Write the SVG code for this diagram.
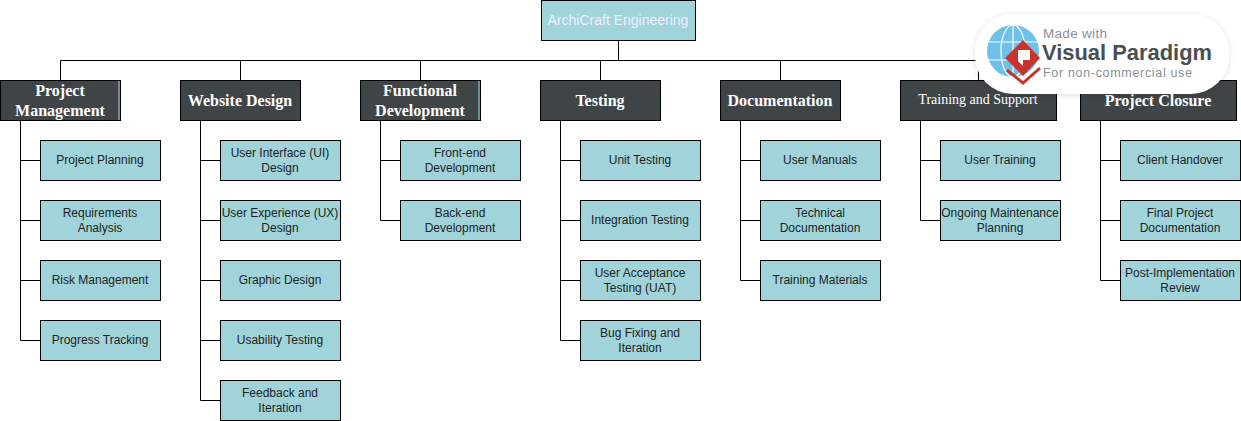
<svg xmlns="http://www.w3.org/2000/svg" width="1241" height="421" viewBox="0 0 1241 421">
<style>
.c{fill:none;stroke:#000;stroke-width:1}
.d{fill:#3f4446;stroke:#000;stroke-width:1}
.l{fill:#a0d4da;stroke:#000;stroke-width:1}
.dt{font-family:"Liberation Serif",serif;font-weight:bold;font-size:16px;fill:#fff;text-anchor:middle}
.lt{font-family:"Liberation Sans",Arial,sans-serif;font-size:12px;fill:#222;text-anchor:middle}
.rt{font-family:"Liberation Sans",Arial,sans-serif;font-size:14px;fill:#eef;text-anchor:middle}
.wm{font-family:"Liberation Sans",Arial,sans-serif}
</style>
<defs><filter id="sh" x="-10%" y="-20%" width="120%" height="140%"><feDropShadow dx="0" dy="1" stdDeviation="3" flood-color="#000" flood-opacity="0.12"/></filter></defs>
<g id="connectors" class="c">
<path class="c" d="M618.5 40.5V60.5M60.5 80.5V60.5H1158.5V80.5M240.5 60.5V80.5M420.5 60.5V80.5M600.5 60.5V80.5M780.5 60.5V80.5M978.5 60.5V80.5"/>
<path class="c" d="M20.5 120.5V340.5H40.5M20.5 160.5H40.5M20.5 220.5H40.5M20.5 280.5H40.5"/>
<path class="c" d="M200.5 120.5V400.5H220.5M200.5 160.5H220.5M200.5 220.5H220.5M200.5 280.5H220.5M200.5 340.5H220.5"/>
<path class="c" d="M380.5 120.5V220.5H400.5M380.5 160.5H400.5"/>
<path class="c" d="M560.5 120.5V340.5H580.5M560.5 160.5H580.5M560.5 220.5H580.5M560.5 280.5H580.5"/>
<path class="c" d="M740.5 120.5V280.5H760.5M740.5 160.5H760.5M740.5 220.5H760.5"/>
<path class="c" d="M920.5 120.5V220.5H940.5M920.5 160.5H940.5"/>
<path class="c" d="M1100.5 120.5V280.5H1120.5M1100.5 160.5H1120.5M1100.5 220.5H1120.5"/>
</g>
<g id="root"><rect class="l" x="541.5" y="0.5" width="154" height="40"/><text class="rt" x="618" y="25">ArchiCraft Engineering</text></g>
<g id="n1"><rect class="d" x="0.5" y="80.5" width="120" height="40"/><path d="M119 81V120" stroke="#a0d4da" stroke-width="1"/><text class="dt" x="60" y="96">Project</text><text class="dt" x="60" y="116">Management</text></g>
<g id="n2"><rect class="d" x="180.5" y="80.5" width="120" height="40"/><text class="dt" x="240" y="106">Website Design</text></g>
<g id="n3"><rect class="d" x="360.5" y="80.5" width="120" height="40"/><path d="M479 81V120" stroke="#a0d4da" stroke-width="1"/><text class="dt" x="420" y="96">Functional</text><text class="dt" x="420" y="116">Development</text></g>
<g id="n4"><rect class="d" x="540.5" y="80.5" width="120" height="40"/><text class="dt" x="600" y="106">Testing</text></g>
<g id="n5"><rect class="d" x="720.5" y="80.5" width="120" height="40"/><text class="dt" x="780" y="106">Documentation</text></g>
<g id="n6"><rect class="d" x="900.5" y="80.5" width="156" height="40"/><text class="dt" style="font-weight:normal;font-size:14px" x="978" y="104">Training and Support</text></g>
<g id="n7"><rect class="d" x="1080.5" y="80.5" width="156" height="40"/><text class="dt" x="1158" y="106">Project Closure</text></g>

<g id="a1"><rect class="l" x="40.5" y="140.5" width="120" height="40"/><text class="lt" x="100" y="164">Project Planning</text></g>
<g id="a2"><rect class="l" x="40.5" y="200.5" width="120" height="40"/><text class="lt" x="100" y="217">Requirements</text><text class="lt" x="100" y="232">Analysis</text></g>
<g id="a3"><rect class="l" x="40.5" y="260.5" width="120" height="40"/><text class="lt" x="100" y="284">Risk Management</text></g>
<g id="a4"><rect class="l" x="40.5" y="320.5" width="120" height="40"/><text class="lt" x="100" y="344">Progress Tracking</text></g>

<g id="b1"><rect class="l" x="220.5" y="140.5" width="120" height="40"/><text class="lt" x="280" y="157">User Interface (UI)</text><text class="lt" x="280" y="172">Design</text></g>
<g id="b2"><rect class="l" x="220.5" y="200.5" width="120" height="40"/><text class="lt" x="280" y="217">User Experience (UX)</text><text class="lt" x="280" y="232">Design</text></g>
<g id="b3"><rect class="l" x="220.5" y="260.5" width="120" height="40"/><text class="lt" x="280" y="284">Graphic Design</text></g>
<g id="b4"><rect class="l" x="220.5" y="320.5" width="120" height="40"/><text class="lt" x="280" y="344">Usability Testing</text></g>
<g id="b5"><rect class="l" x="220.5" y="380.5" width="120" height="40"/><text class="lt" x="280" y="397">Feedback and</text><text class="lt" x="280" y="412">Iteration</text></g>

<g id="c1"><rect class="l" x="400.5" y="140.5" width="120" height="40"/><text class="lt" x="460" y="157">Front-end</text><text class="lt" x="460" y="172">Development</text></g>
<g id="c2"><rect class="l" x="400.5" y="200.5" width="120" height="40"/><text class="lt" x="460" y="217">Back-end</text><text class="lt" x="460" y="232">Development</text></g>

<g id="d1"><rect class="l" x="580.5" y="140.5" width="120" height="40"/><text class="lt" x="640" y="164">Unit Testing</text></g>
<g id="d2"><rect class="l" x="580.5" y="200.5" width="120" height="40"/><text class="lt" x="640" y="224">Integration Testing</text></g>
<g id="d3"><rect class="l" x="580.5" y="260.5" width="120" height="40"/><text class="lt" x="640" y="277">User Acceptance</text><text class="lt" x="640" y="292">Testing (UAT)</text></g>
<g id="d4"><rect class="l" x="580.5" y="320.5" width="120" height="40"/><text class="lt" x="640" y="337">Bug Fixing and</text><text class="lt" x="640" y="352">Iteration</text></g>

<g id="e1"><rect class="l" x="760.5" y="140.5" width="120" height="40"/><text class="lt" x="820" y="164">User Manuals</text></g>
<g id="e2"><rect class="l" x="760.5" y="200.5" width="120" height="40"/><text class="lt" x="820" y="217">Technical</text><text class="lt" x="820" y="232">Documentation</text></g>
<g id="e3"><rect class="l" x="760.5" y="260.5" width="120" height="40"/><text class="lt" x="820" y="284">Training Materials</text></g>

<g id="f1"><rect class="l" x="940.5" y="140.5" width="120" height="40"/><text class="lt" x="1000" y="164">User Training</text></g>
<g id="f2"><rect class="l" x="940.5" y="200.5" width="120" height="40"/><text class="lt" x="1000" y="217">Ongoing Maintenance</text><text class="lt" x="1000" y="232">Planning</text></g>

<g id="g1"><rect class="l" x="1120.5" y="140.5" width="120" height="40"/><text class="lt" x="1180" y="164">Client Handover</text></g>
<g id="g2"><rect class="l" x="1120.5" y="200.5" width="120" height="40"/><text class="lt" x="1180" y="217">Final Project</text><text class="lt" x="1180" y="232">Documentation</text></g>
<g id="g3"><rect class="l" x="1120.5" y="260.5" width="120" height="40"/><text class="lt" x="1180" y="277">Post-Implementation</text><text class="lt" x="1180" y="292">Review</text></g>

<g id="watermark">
<rect x="975" y="14" width="254" height="80" rx="38" fill="#fff" filter="url(#sh)"/>
<circle cx="1013" cy="51" r="26" fill="#6ec1ea"/>
<g fill="none" stroke="#fff" stroke-width="1.2"><ellipse cx="1013" cy="51" rx="12" ry="26"/><path d="M1013 25V77M988 42H1038M988 60H1038"/></g>
<path d="M1007 70L1023 83L1040 68" fill="none" stroke="#c8342c" stroke-width="3"/>
<path d="M1023 40L1040 58L1023 76L1005 58Z" fill="#c8342c"/>
<path d="M1018 50H1030V60H1023V66L1018 61Z" fill="#fff"/>
<text class="wm" x="1043" y="37.500" font-size="13.500" fill="#8a8f92" textLength="64">Made with</text>
<text class="wm" x="1042" y="60" font-size="21.500" font-weight="bold" fill="#4a4f52" textLength="170" lengthAdjust="spacingAndGlyphs">Visual Paradigm</text>
<text class="wm" x="1043" y="77" font-size="12.500" fill="#8a8f92" textLength="149">For non-commercial use</text>
</g>
</svg>
